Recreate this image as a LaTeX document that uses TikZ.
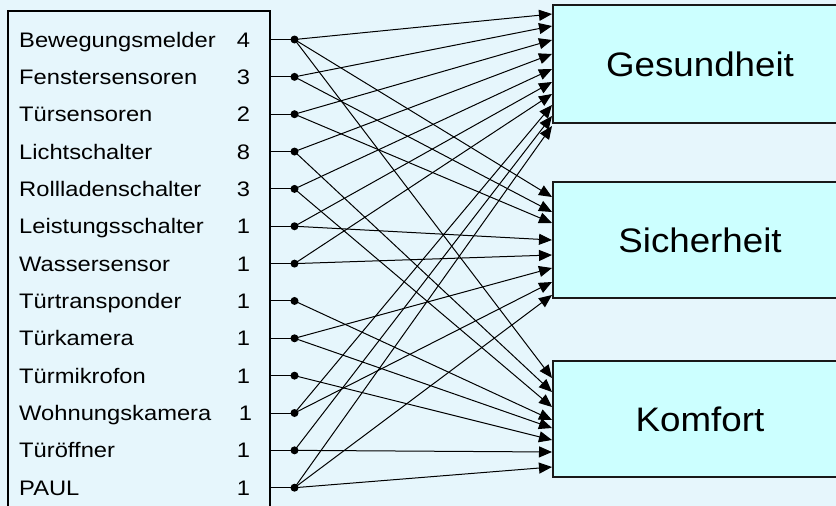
\documentclass[tikz,border=0pt]{standalone}
\usepackage{fontspec}
\setmainfont{Liberation Sans}
\newfontfamily\lblfont[FakeStretch=1.13]{Liberation Sans}
\newfontfamily\boxfont[FakeStretch=1.08]{Liberation Sans}
\usetikzlibrary{arrows.meta}
\definecolor{bgcol}{RGB}{230,246,252}
\definecolor{boxfill}{RGB}{204,255,255}
\begin{document}
\begin{tikzpicture}[x=1pt,y=-1pt,
  lbl/.style={anchor=base west,inner sep=0pt,font=\lblfont\fontsize{21}{25}\selectfont},
  num/.style={anchor=base,inner sep=0pt,font=\lblfont\fontsize{21}{25}\selectfont},
  target/.style={draw=black!90,line width=2pt,fill=boxfill,minimum width=294pt,
    minimum height=116pt,inner sep=0pt,font=\boxfont\fontsize{34}{40}\selectfont},
  conn/.style={line width=1pt,-{Triangle[length=13pt,width=11pt]}},
  stub/.style={line width=1pt}]
\useasboundingbox (0,0) rectangle (836,506);
\fill[bgcol] (0,0) rectangle (836,506);
\clip (0,0) rectangle (836,506);
% left box
\node[draw,line width=2.4pt,minimum width=262pt,minimum height=520pt,anchor=north west,inner sep=0pt] (src) at (7,10) {};
% rows
\foreach \i/\t/\n/\nx in {1/Bewegungsmelder/4/243.5, 2/Fenstersensoren/3/243.5,
  3/Türsensoren/2/243.5, 4/Lichtschalter/8/243.5, 5/Rollladenschalter/3/243.5,
  6/Leistungsschalter/1/243.5, 7/Wassersensor/1/243.5, 8/Türtransponder/1/243.5,
  9/Türkamera/1/243.5, 10/Türmikrofon/1/243.5, 11/Wohnungskamera/1/245.5,
  12/Türöffner/1/243.5, 13/PAUL/1/243.5} {
  \pgfmathsetmacro\yy{39.5+37.35*(\i-1)}
  \node[lbl] (l\i) at (19,{\yy+7.5}) {\t};
  \node[num] (n\i) at (\nx,{\yy+7.5}) {\n};
  \coordinate (d\i) at (294.5,\yy);
  \draw[stub] (src.east |- d\i) -- (d\i);
}
% target boxes
\node[target,minimum height=118pt] (G) at (700,64) {Gesundheit};
\node[target] (S) at (700,240) {Sicherheit};
\node[target] (K) at (700,419) {Komfort};
% arrow tip points
\foreach \k/\y in {1/14,2/26,3/40,4/54,5/69,6/82,7/94,8/105,9/116,10/126}
  \coordinate (g\k) at (552,\y);
\foreach \k/\y in {1/197,2/212,3/223,4/240,5/255,6/268,7/282,8/295}
  \coordinate (s\k) at (552,\y);
\foreach \k/\y in {1/378,2/392,3/407,4/420,5/428,6/440,7/452,8/467}
  \coordinate (k\k) at (552,\y);
% connectors
\foreach \a/\b in {d1/g1,d2/g2,d3/g3,d4/g4,d5/g5,d6/g6,d7/g7,d11/g8,d12/g9,d13/g10,
  d1/s1,d2/s2,d3/s3,d6/s4,d7/s5,d9/s6,d11/s7,d13/s8,
  d1/k1,d4/k2,d5/k3,d8/k4,d9/k5,d10/k6,d12/k7,d13/k8}
  \draw[conn] (\a) -- (\b);
% source dots
\foreach \i in {1,...,13}
  \fill (d\i) circle[radius=4pt];
\end{tikzpicture}
\end{document}
